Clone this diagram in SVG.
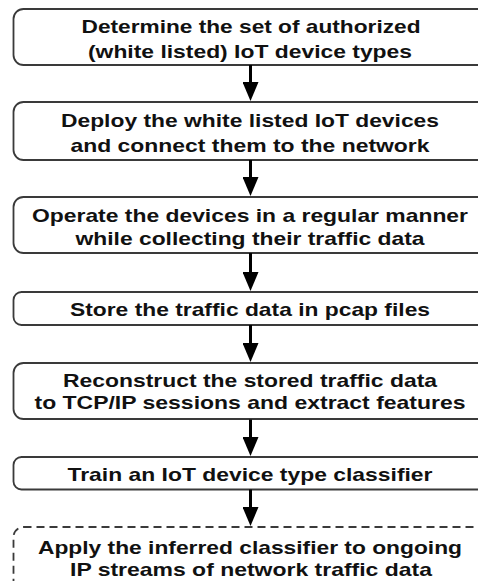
<svg xmlns="http://www.w3.org/2000/svg" width="478" height="581" viewBox="0 0 478 581">
<defs>
<style>
.box{fill:#fff;stroke:#3a3a3a;stroke-width:1.8}
.dash{stroke-dasharray:8 5}
.t{font-family:"Liberation Sans",Arial,sans-serif;font-weight:bold;font-size:19px;fill:#111;text-anchor:middle}
.conn line{stroke:#000;stroke-width:3}
</style>
<marker id="ah" viewBox="0 0 19 16" refX="9" refY="8" markerWidth="19" markerHeight="16" markerUnits="userSpaceOnUse" orient="auto">
<path d="M0,0 L19,8 L0,16 z" fill="#000"/>
</marker>
</defs>
<rect width="478" height="581" fill="#fff"/>
<g id="n1">
<rect class="box" x="13.5" y="9" width="475" height="56" rx="10"/>
<text class="t" x="251" y="32.5" textLength="339" lengthAdjust="spacingAndGlyphs">Determine the set of authorized</text>
<text class="t" x="250" y="57.5" textLength="324" lengthAdjust="spacingAndGlyphs">(white listed) IoT device types</text>
</g>
<g id="n2">
<rect class="box" x="13.5" y="102" width="475" height="58" rx="10"/>
<text class="t" x="250" y="127" textLength="378" lengthAdjust="spacingAndGlyphs">Deploy the white listed IoT devices</text>
<text class="t" x="250" y="152" textLength="359" lengthAdjust="spacingAndGlyphs">and connect them to the network</text>
</g>
<g id="n3">
<rect class="box" x="13.5" y="197" width="475" height="56" rx="10"/>
<text class="t" x="250" y="222" textLength="436" lengthAdjust="spacingAndGlyphs">Operate the devices in a regular manner</text>
<text class="t" x="250" y="245" textLength="349" lengthAdjust="spacingAndGlyphs">while collecting their traffic data</text>
</g>
<g id="n4">
<rect class="box" x="13.5" y="292" width="475" height="33" rx="8"/>
<text class="t" x="250" y="315.5" textLength="360" lengthAdjust="spacingAndGlyphs">Store the traffic data in pcap files</text>
</g>
<g id="n5">
<rect class="box" x="13.5" y="363" width="475" height="56" rx="10"/>
<text class="t" x="250" y="386.5" textLength="374" lengthAdjust="spacingAndGlyphs">Reconstruct the stored traffic data</text>
<text class="t" x="250" y="409" textLength="431" lengthAdjust="spacingAndGlyphs">to TCP/IP sessions and extract features</text>
</g>
<g id="n6">
<rect class="box" x="13.5" y="457" width="475" height="32.5" rx="8"/>
<text class="t" x="250" y="481" textLength="365" lengthAdjust="spacingAndGlyphs">Train an IoT device type classifier</text>
</g>
<g id="n7">
<rect class="box dash" x="13.5" y="527" width="475" height="80" rx="10"/>
<text class="t" x="250" y="554" textLength="424" lengthAdjust="spacingAndGlyphs">Apply the inferred classifier to ongoing</text>
<text class="t" x="251" y="576" textLength="362" lengthAdjust="spacingAndGlyphs">IP streams of network traffic data</text>
</g>
<g class="conn" id="connectors">
<line x1="250.5" y1="65" x2="250.5" y2="91" marker-end="url(#ah)"/>
<line x1="250.5" y1="160" x2="250.5" y2="186" marker-end="url(#ah)"/>
<line x1="250.5" y1="253" x2="250.5" y2="281" marker-end="url(#ah)"/>
<line x1="250.5" y1="325" x2="250.5" y2="352" marker-end="url(#ah)"/>
<line x1="250.5" y1="419.5" x2="250.5" y2="446" marker-end="url(#ah)"/>
<line x1="250.5" y1="489.5" x2="250.5" y2="516" marker-end="url(#ah)"/>
</g>
</svg>
